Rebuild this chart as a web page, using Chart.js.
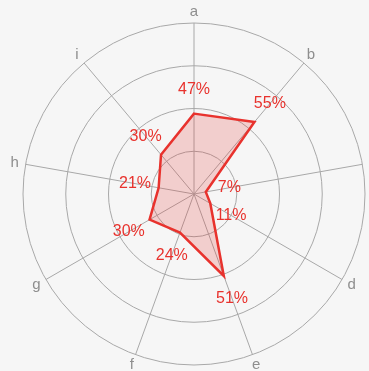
<!DOCTYPE html>
<html>
<head>
<meta charset="utf-8">
<script src="https://cdn.jsdelivr.net/npm/chart.js@4/dist/chart.umd.min.js"></script>
<style>
  html, body { margin: 0; padding: 0; background: #f6f6f6; overflow: hidden; }
  #wrap { width: 369px; height: 371px; }
</style>
</head>
<body>
<div id="wrap"><canvas id="radar"></canvas></div>
<script>
// axis names and share per axis (percent)
var categories = ['a', 'b', 'c', 'd', 'e', 'f', 'g', 'h', 'i'];
var shares = [47, 55, 7, 11, 51, 24, 30, 21, 30];
var ringTicks = [0, 25, 50, 75, 100];

var red = '#e8322d';
var grey = '#a8a8a8';

// axis names outside the outer ring + value labels beside each vertex
var labelPlugin = {
  id: 'radarLabels',
  afterDatasetsDraw: function (chart) {
    var scale = chart.scales.r;
    var ctx = chart.ctx;
    ctx.save();
    ctx.textAlign = 'center';
    ctx.textBaseline = 'middle';

    ctx.font = '15px "Liberation Sans", Arial, sans-serif';
    ctx.fillStyle = '#8e8e8e';
    categories.forEach(function (name, i) {
      var p = scale.getPointPosition(i, scale.drawingArea + 11);
      ctx.fillText(name, p.x, p.y);
    });

    ctx.font = '16px "Liberation Sans", Arial, sans-serif';
    ctx.fillStyle = red;
    shares.forEach(function (v, i) {
      var p = scale.getPointPosition(i, scale.getDistanceFromCenterForValue(v) + 24);
      ctx.fillText(v + '%', p.x, p.y);
    });
    ctx.restore();
  }
};

new Chart(document.getElementById('radar'), {
  type: 'radar',
  data: {
    labels: categories,
    datasets: [{
      data: shares,
      borderColor: red,
      borderWidth: 2.5,
      backgroundColor: 'rgba(232, 50, 45, 0.2)',
      pointRadius: 0,
      fill: true
    }]
  },
  options: {
    responsive: true,
    maintainAspectRatio: false,
    animation: false,
    layout: { padding: { left: 23, top: 23, right: 4, bottom: 6 } },
    plugins: { legend: { display: false }, tooltip: { enabled: false } },
    scales: {
      r: {
        min: ringTicks[0],
        max: ringTicks[ringTicks.length - 1],
        ticks: { display: false, stepSize: ringTicks[1] - ringTicks[0] },
        grid: { circular: true, color: grey, lineWidth: 1 },
        angleLines: { color: grey, lineWidth: 1 },
        pointLabels: { display: false }
      }
    }
  },
  plugins: [labelPlugin]
});
</script>
</body>
</html>
